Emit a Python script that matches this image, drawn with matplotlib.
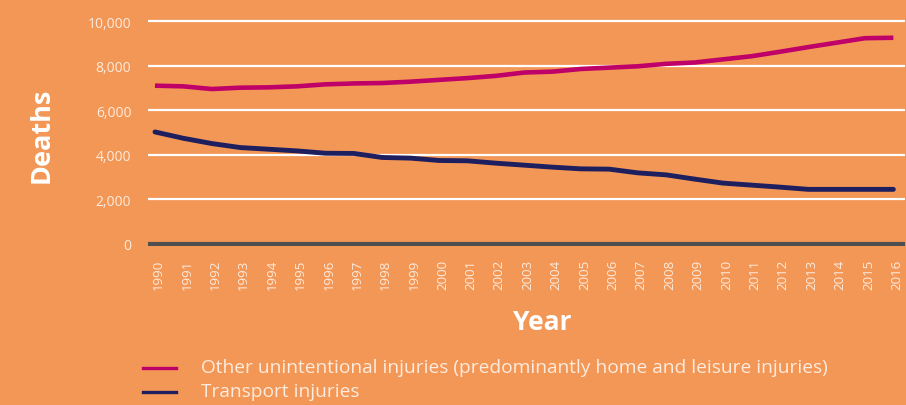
import matplotlib
matplotlib.use("Agg")
import matplotlib.pyplot as plt
import matplotlib.transforms as mtransforms
from matplotlib.lines import Line2D

years = list(range(1990, 2017))
other_injuries = [7100, 7070, 6950, 7010, 7025, 7070, 7160, 7200, 7220, 7280, 7360, 7440, 7540,
                  7690, 7730, 7850, 7910, 7970, 8080, 8140, 8280, 8420, 8620, 8830, 9030, 9230, 9250]
transport_injuries = [5025, 4740, 4505, 4325, 4250, 4175, 4070, 4060, 3880, 3850, 3745, 3730, 3625,
                      3535, 3445, 3370, 3355, 3190, 3100, 2910, 2730, 2640, 2550, 2450, 2450, 2450, 2450]
y_ticks = [0, 2000, 4000, 6000, 8000, 10000]
y_ticklabels = ["0", "2,000", "4,000", "6,000", "8,000", "10,000"]
label_other = "Other unintentional injuries (predominantly home and leisure injuries)"
label_transport = "Transport injuries"

BG = "#F39757"
MAGENTA = "#BE0068"
NAVY = "#1E1F5E"
TXT = "#FDEBDD"
FONT = ["Open Sans", "DejaVu Sans"]

plt.rcParams["font.family"] = FONT

fig = plt.figure(figsize=(9.06, 4.06), dpi=100)
fig.patch.set_facecolor(BG)
W, H = 906, 406
left, right = 148, 905
top_px, bot_px = 19.8, 247.2
ax = fig.add_axes([left / W, 1 - bot_px / H, (right - left) / W, (bot_px - top_px) / H])
ax.set_facecolor(BG)

ax.set_xlim(1989.754, 2016.41)
ax.set_ylim(-100, 10100)

for yv in y_ticks[1:]:
    ax.axhline(yv, color="white", lw=1.6, zorder=1)
ax.axhline(0, color="#4F4F4F", lw=3.0, zorder=1)

ax.plot(years, other_injuries, color=MAGENTA, lw=3.3, solid_capstyle="butt", zorder=3)
ax.plot(years, transport_injuries, color=NAVY, lw=3.5, solid_capstyle="round", zorder=3)

for s in ax.spines.values():
    s.set_visible(False)
ax.set_yticks(y_ticks)
ax.set_yticklabels(y_ticklabels, color=TXT, fontsize=10)
ax.set_xticks(years)
ax.set_xticklabels([str(y) for y in years], rotation=90, color=TXT, fontsize=9.5)
ax.tick_params(axis="both", length=0)
ax.tick_params(axis="y", pad=12)
ax.tick_params(axis="x", pad=9)
shift = mtransforms.ScaledTranslation(3.5 / 100, 0, fig.dpi_scale_trans)
for lbl in ax.get_xticklabels():
    lbl.set_transform(lbl.get_transform() + shift)

fig.text(42 / W, 1 - 135 / H, "Deaths", rotation=90, ha="center", va="center",
         color="white", fontsize=19.5, fontweight="bold")
fig.text(542 / W, 1 - 323 / H, "Year", ha="center", va="center",
         color="white", fontsize=19, fontweight="bold")

# legend drawn in figure coordinates
legend_items = [(label_other, MAGENTA, 368), (label_transport, NAVY, 392)]
for lab, col, ypx in legend_items:
    fig.add_artist(Line2D([143 / W, 176 / W], [1 - (ypx + 1) / H, 1 - (ypx + 1) / H],
                          color=col, lw=2.4, transform=fig.transFigure))
    fig.text(201 / W, 1 - ypx / H, lab, ha="left", va="center", color=TXT, fontsize=13.8)

fig.savefig("out.png", dpi=100, facecolor=BG)
